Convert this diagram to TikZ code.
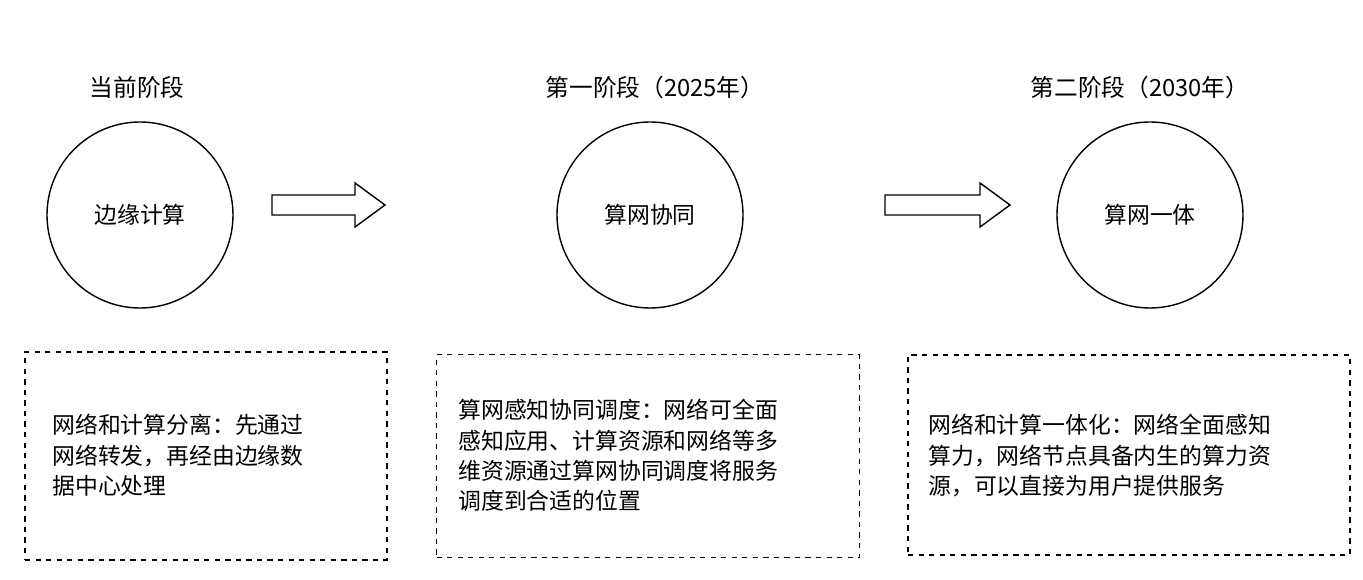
\documentclass[tikz,border=0pt]{standalone}
\usepackage{fontspec}
\newfontfamily\cjk{Noto Sans CJK SC}
\begin{document}
\begin{tikzpicture}[x=0.02cm,y=-0.02cm,font=\cjk,
  stage/.style={circle,draw,thick,minimum size=186*0.02cm,font=\cjk\fontsize{13}{15}\selectfont},
  ttl/.style={font=\cjk\fontsize{13.5}{16}\selectfont},
  fat/.style={draw,thick},
  desc/.style={draw,thick,dashed,inner sep=0pt},
  dtext/.style={anchor=north west,align=left,inner sep=0pt,font=\cjk\fontsize{13}{17.2}\selectfont}]
\useasboundingbox (0,0) rectangle (1363,580);
\node[ttl] (t1) at (137,87) {当前阶段};
\node[ttl] (t2) at (655,87) {第一阶段（2025年）};
\node[ttl] (t3) at (1140,87) {第二阶段（2030年）};
\node[stage] (c1) at (140,215) {边缘计算};
\node[stage] (c2) at (650,215) {算网协同};
\node[stage] (c3) at (1150,215) {算网一体};
\coordinate (a1) at (272,205);
\coordinate (a2) at (885,205);
\draw[fat] (a1) ++(0,-10) -- ++(83,0) -- ++(0,-12) -- ++(30,22) -- ++(-30,22) -- ++(0,-12) -- ++(-83,0) -- cycle;
\draw[fat] (a2) ++(0,-10) -- ++(95,0) -- ++(0,-12) -- ++(30,22) -- ++(-30,22) -- ++(0,-12) -- ++(-95,0) -- cycle;
\node[desc,minimum width=362*0.02cm,minimum height=208*0.02cm] (b1) at (206,456) {};
\node[desc,minimum width=423*0.02cm,minimum height=203*0.02cm] (b2) at (648,456) {};
\node[desc,minimum width=442*0.02cm,minimum height=200*0.02cm] (b3) at (1129,455) {};
\node[dtext] (d1) at (52,414) {网络和计算分离：先通过\\网络转发，再经由边缘数\\据中心处理};
\node[dtext] (d2) at (458,399) {算网感知协同调度：网络可全面\\感知应用、计算资源和网络等多\\维资源通过算网协同调度将服务\\调度到合适的位置};
\node[dtext] (d3) at (928,414) {网络和计算一体化：网络全面感知\\算力，网络节点具备内生的算力资\\源，可以直接为用户提供服务};
\end{tikzpicture}
\end{document}
